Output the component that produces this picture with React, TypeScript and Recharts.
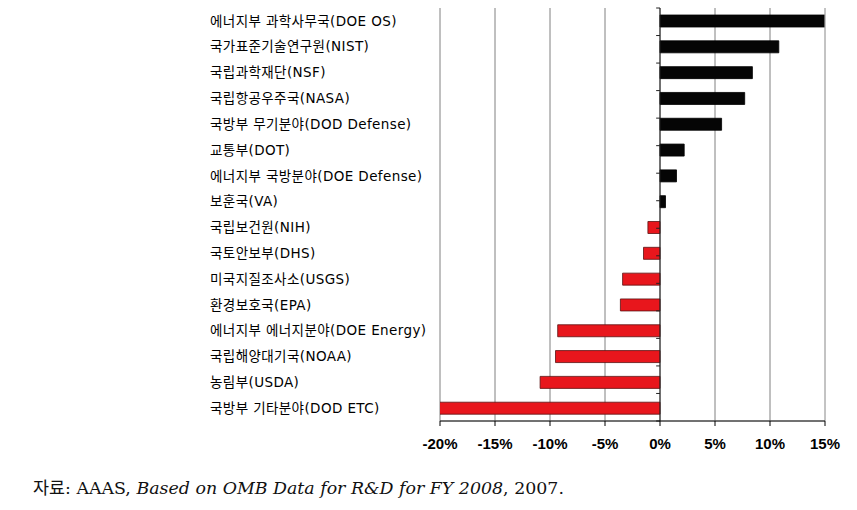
import React from 'react';
import { BarChart, Bar, XAxis, YAxis, CartesianGrid, ReferenceLine, Cell } from 'recharts';

// 2008 R&D budget change by agency (%)
const agencies = [
  '에너지부 과학사무국(DOE OS)',
  '국가표준기술연구원(NIST)',
  '국립과학재단(NSF)',
  '국립항공우주국(NASA)',
  '국방부 무기분야(DOD Defense)',
  '교통부(DOT)',
  '에너지부 국방분야(DOE Defense)',
  '보훈국(VA)',
  '국립보건원(NIH)',
  '국토안보부(DHS)',
  '미국지질조사소(USGS)',
  '환경보호국(EPA)',
  '에너지부 에너지분야(DOE Energy)',
  '국립해양대기국(NOAA)',
  '농림부(USDA)',
  '국방부 기타분야(DOD ETC)',
];
const changes = [15.2, 10.8, 8.4, 7.7, 5.6, 2.2, 1.5, 0.5, -1.1, -1.5, -3.4, -3.6, -9.3, -9.5, -10.9, -20.1];
const xTicks = [-20, -15, -10, -5, 0, 5, 10, 15];

const data = agencies.map((name, i) => ({ name, value: changes[i] }));
const boundaries = agencies.map((_, i) => i).concat(agencies.length);

const LABEL_X = 210;

const CategoryTick = (props: any) => (
  <text
    x={LABEL_X}
    y={props.y}
    dy="0.35em"
    textAnchor="start"
    fill="#000"
    fontSize={13.5}
    letterSpacing={0.4}
    fontFamily="'DejaVu Sans', 'Noto Sans CJK KR', sans-serif"
  >
    {props.payload.value}
  </text>
);

export default function App() {
  return (
    <div style={{ position: 'absolute', left: 0, top: 0, width: 857, height: 510, background: '#fff' }}>
      <BarChart
        width={857}
        height={475}
        data={data}
        layout="vertical"
        margin={{ top: 8, right: 32, left: 210, bottom: 24 }}
      >
        <CartesianGrid horizontal={false} stroke="#808080" strokeWidth={1} />
        <XAxis
          type="number"
          domain={[-20, 15]}
          ticks={xTicks}
          allowDataOverflow
          tickFormatter={(v: number) => `${v}%`}
          axisLine={{ stroke: '#000' }}
          tickLine={{ stroke: '#000' }}
          tickSize={5}
          tickMargin={12}
          height={30}
          tick={{ fill: '#000', fontSize: 15, fontWeight: 'bold', fontFamily: "'Liberation Sans', Arial, sans-serif" }}
        />
        <YAxis
          type="category"
          dataKey="name"
          width={230}
          interval={0}
          axisLine={false}
          tickLine={false}
          tick={<CategoryTick />}
        />
        <YAxis yAxisId="grid" type="number" domain={[0, agencies.length]} reversed hide />
        <ReferenceLine x={15} stroke="#c8c8c8" />
        <ReferenceLine yAxisId="grid" y={0} stroke="#c8c8c8" />
        <Bar dataKey="value" barSize={12} stroke="#222" strokeWidth={0.8} isAnimationActive={false}>
          {data.map((d, i) => (
            <Cell key={`c-${i}`} fill={d.value >= 0 ? '#050505' : '#e8161c'} stroke={d.value >= 0 ? '#000' : '#5a1212'} />
          ))}
        </Bar>
        <ReferenceLine x={0} stroke="#222" />
        {boundaries.map((b) => (
          <ReferenceLine
            key={`t-${b}`}
            yAxisId="grid"
            segment={[{ x: -0.35, y: b }, { x: 0, y: b }]}
            stroke="#222"
          />
        ))}
      </BarChart>
      <div
        style={{
          position: 'absolute',
          left: 33,
          top: 474,
          fontFamily: "'DejaVu Serif', 'Noto Sans CJK KR', serif",
          fontSize: 17.4,
          color: '#111',
          whiteSpace: 'nowrap',
        }}
      >
        자료: AAAS, <i>Based on OMB Data for R&amp;D for FY 2008</i>, 2007.
      </div>
    </div>
  );
}
